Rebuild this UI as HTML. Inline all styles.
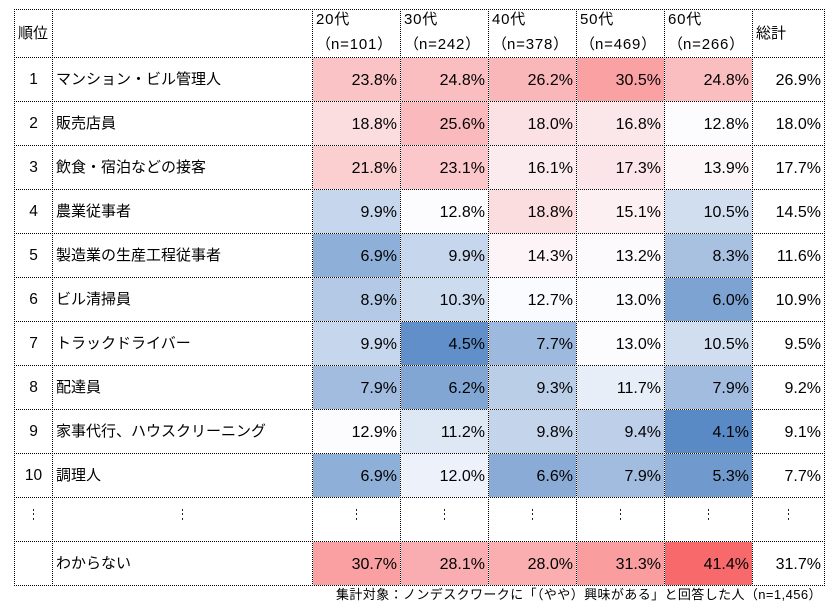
<!DOCTYPE html>
<html><head><meta charset="utf-8">
<style>
html,body{margin:0;padding:0;background:#fff;}
#w{position:relative;width:835px;height:609px;overflow:hidden;background:#fff;font-family:"Liberation Sans","Noto Sans CJK JP",sans-serif;color:#000;font-size:15px;}
.c{position:absolute;height:43px;display:flex;align-items:center;box-sizing:border-box;line-height:15px;white-space:nowrap;}
.n{justify-content:flex-end;padding-right:3px;font-size:16px;padding-top:1px;}
.r{justify-content:center;font-size:15.5px;}
.t{padding-left:3px;}
.h{position:absolute;border-top:1px dotted #000;height:0;left:14px;width:811px;}
.v{position:absolute;border-left:1px dotted #000;width:0;top:9px;height:577px;}
.ht{position:absolute;line-height:15px;white-space:nowrap;}
.ls{letter-spacing:0.8px;}
.d{position:absolute;width:1px;height:2px;background:#222;}
.c0{left:15px;width:37px}.c1{left:53px;width:259px}
.a{left:313px;width:87px}.b{left:401px;width:87px}.e{left:489px;width:87px}.f{left:577px;width:87px}.g{left:665px;width:87px}
.s{left:753px;width:71px}
</style></head><body><div id="w">

<!-- header -->
<div class="ht" style="left:18px;top:26px;">順位</div>
<div class="ht" style="left:316px;top:12px;"><span class="ls">20</span>代</div>
<div class="ht" style="left:316px;top:37px;">（<span class="ls">n=101</span>）</div>
<div class="ht" style="left:404px;top:12px;"><span class="ls">30</span>代</div>
<div class="ht" style="left:404px;top:37px;">（<span class="ls">n=242</span>）</div>
<div class="ht" style="left:492px;top:12px;"><span class="ls">40</span>代</div>
<div class="ht" style="left:492px;top:37px;">（<span class="ls">n=378</span>）</div>
<div class="ht" style="left:580px;top:12px;"><span class="ls">50</span>代</div>
<div class="ht" style="left:580px;top:37px;">（<span class="ls">n=469</span>）</div>
<div class="ht" style="left:668px;top:12px;"><span class="ls">60</span>代</div>
<div class="ht" style="left:668px;top:37px;">（<span class="ls">n=266</span>）</div>
<div class="ht" style="left:756px;top:26px;">総計</div>

<!-- row 1 -->
<div class="c c0 r" style="top:58px">1</div>
<div class="c c1 t" style="top:58px">マンション・ビル管理人</div>
<div class="c a n" style="top:58px;background:rgb(250,196,198)">23.8%</div>
<div class="c b n" style="top:58px;background:rgb(250,190,193)">24.8%</div>
<div class="c e n" style="top:58px;background:rgb(250,183,186)">26.2%</div>
<div class="c f n" style="top:58px;background:rgb(250,161,163)">30.5%</div>
<div class="c g n" style="top:58px;background:rgb(250,190,193)">24.8%</div>
<div class="c s n" style="top:58px">26.9%</div>

<!-- row 2 -->
<div class="c c0 r" style="top:102px">2</div>
<div class="c c1 t" style="top:102px">販売店員</div>
<div class="c a n" style="top:102px;background:rgb(251,221,224)">18.8%</div>
<div class="c b n" style="top:102px;background:rgb(250,186,189)">25.6%</div>
<div class="c e n" style="top:102px;background:rgb(251,225,228)">18.0%</div>
<div class="c f n" style="top:102px;background:rgb(251,231,234)">16.8%</div>
<div class="c g n" style="top:102px;background:rgb(252,252,255)">12.8%</div>
<div class="c s n" style="top:102px">18.0%</div>

<!-- row 3 -->
<div class="c c0 r" style="top:146px">3</div>
<div class="c c1 t" style="top:146px">飲食・宿泊などの接客</div>
<div class="c a n" style="top:146px;background:rgb(251,206,208)">21.8%</div>
<div class="c b n" style="top:146px;background:rgb(251,199,202)">23.1%</div>
<div class="c e n" style="top:146px;background:rgb(252,235,238)">16.1%</div>
<div class="c f n" style="top:146px;background:rgb(251,229,232)">17.3%</div>
<div class="c g n" style="top:146px;background:rgb(252,246,249)">13.9%</div>
<div class="c s n" style="top:146px">17.7%</div>

<!-- row 4 -->
<div class="c c0 r" style="top:190px">4</div>
<div class="c c1 t" style="top:190px">農業従事者</div>
<div class="c a n" style="top:190px;background:rgb(198,214,236)">9.9%</div>
<div class="c b n" style="top:190px;background:rgb(252,252,255)">12.8%</div>
<div class="c e n" style="top:190px;background:rgb(251,221,224)">18.8%</div>
<div class="c f n" style="top:190px;background:rgb(252,240,243)">15.1%</div>
<div class="c g n" style="top:190px;background:rgb(209,222,240)">10.5%</div>
<div class="c s n" style="top:190px">14.5%</div>

<!-- row 5 -->
<div class="c c0 r" style="top:234px">5</div>
<div class="c c1 t" style="top:234px">製造業の生産工程従事者</div>
<div class="c a n" style="top:234px;background:rgb(142,175,216)">6.9%</div>
<div class="c b n" style="top:234px;background:rgb(198,214,236)">9.9%</div>
<div class="c e n" style="top:234px;background:rgb(252,244,247)">14.3%</div>
<div class="c f n" style="top:234px;background:rgb(252,250,253)">13.2%</div>
<div class="c g n" style="top:234px;background:rgb(168,193,225)">8.3%</div>
<div class="c s n" style="top:234px">11.6%</div>

<!-- row 6 -->
<div class="c c0 r" style="top:278px">6</div>
<div class="c c1 t" style="top:278px">ビル清掃員</div>
<div class="c a n" style="top:278px;background:rgb(179,201,229)">8.9%</div>
<div class="c b n" style="top:278px;background:rgb(205,219,239)">10.3%</div>
<div class="c e n" style="top:278px;background:rgb(250,251,254)">12.7%</div>
<div class="c f n" style="top:278px;background:rgb(252,251,254)">13.0%</div>
<div class="c g n" style="top:278px;background:rgb(125,163,210)">6.0%</div>
<div class="c s n" style="top:278px">10.9%</div>

<!-- row 7 -->
<div class="c c0 r" style="top:322px">7</div>
<div class="c c1 t" style="top:322px">トラックドライバー</div>
<div class="c a n" style="top:322px;background:rgb(198,214,236)">9.9%</div>
<div class="c b n" style="top:322px;background:rgb(97,143,201)">4.5%</div>
<div class="c e n" style="top:322px;background:rgb(157,185,222)">7.7%</div>
<div class="c f n" style="top:322px;background:rgb(252,251,254)">13.0%</div>
<div class="c g n" style="top:322px;background:rgb(209,222,240)">10.5%</div>
<div class="c s n" style="top:322px">9.5%</div>

<!-- row 8 -->
<div class="c c0 r" style="top:366px">8</div>
<div class="c c1 t" style="top:366px">配達員</div>
<div class="c a n" style="top:366px;background:rgb(161,188,223)">7.9%</div>
<div class="c b n" style="top:366px;background:rgb(129,166,212)">6.2%</div>
<div class="c e n" style="top:366px;background:rgb(187,206,232)">9.3%</div>
<div class="c f n" style="top:366px;background:rgb(232,238,248)">11.7%</div>
<div class="c g n" style="top:366px;background:rgb(161,188,223)">7.9%</div>
<div class="c s n" style="top:366px">9.2%</div>

<!-- row 9 -->
<div class="c c0 r" style="top:410px">9</div>
<div class="c c1 t" style="top:410px">家事代行、ハウスクリーニング</div>
<div class="c a n" style="top:410px;background:rgb(252,251,254)">12.9%</div>
<div class="c b n" style="top:410px;background:rgb(222,231,244)">11.2%</div>
<div class="c e n" style="top:410px;background:rgb(196,213,235)">9.8%</div>
<div class="c f n" style="top:410px;background:rgb(189,207,233)">9.4%</div>
<div class="c g n" style="top:410px;background:rgb(90,138,198)">4.1%</div>
<div class="c s n" style="top:410px">9.1%</div>

<!-- row 10 -->
<div class="c c0 r" style="top:454px">10</div>
<div class="c c1 t" style="top:454px">調理人</div>
<div class="c a n" style="top:454px;background:rgb(142,175,216)">6.9%</div>
<div class="c b n" style="top:454px;background:rgb(237,241,250)">12.0%</div>
<div class="c e n" style="top:454px;background:rgb(137,171,214)">6.6%</div>
<div class="c f n" style="top:454px;background:rgb(161,188,223)">7.9%</div>
<div class="c g n" style="top:454px;background:rgb(112,154,206)">5.3%</div>
<div class="c s n" style="top:454px">7.7%</div>

<!-- dots row -->
<div class="d" style="left:33px;top:509px"></div><div class="d" style="left:33px;top:513px"></div><div class="d" style="left:33px;top:518px"></div>
<div class="d" style="left:182px;top:509px"></div><div class="d" style="left:182px;top:513px"></div><div class="d" style="left:182px;top:518px"></div>
<div class="d" style="left:356px;top:509px"></div><div class="d" style="left:356px;top:513px"></div><div class="d" style="left:356px;top:518px"></div>
<div class="d" style="left:444px;top:509px"></div><div class="d" style="left:444px;top:513px"></div><div class="d" style="left:444px;top:518px"></div>
<div class="d" style="left:532px;top:509px"></div><div class="d" style="left:532px;top:513px"></div><div class="d" style="left:532px;top:518px"></div>
<div class="d" style="left:620px;top:509px"></div><div class="d" style="left:620px;top:513px"></div><div class="d" style="left:620px;top:518px"></div>
<div class="d" style="left:708px;top:509px"></div><div class="d" style="left:708px;top:513px"></div><div class="d" style="left:708px;top:518px"></div>
<div class="d" style="left:788px;top:509px"></div><div class="d" style="left:788px;top:513px"></div><div class="d" style="left:788px;top:518px"></div>

<!-- わからない -->
<div class="c c1 t" style="top:542px">わからない</div>
<div class="c a n" style="top:542px;background:rgb(250,160,162)">30.7%</div>
<div class="c b n" style="top:542px;background:rgb(250,173,176)">28.1%</div>
<div class="c e n" style="top:542px;background:rgb(250,174,176)">28.0%</div>
<div class="c f n" style="top:542px;background:rgb(249,157,159)">31.3%</div>
<div class="c g n" style="top:542px;background:rgb(248,105,107)">41.4%</div>
<div class="c s n" style="top:542px">31.7%</div>

<!-- grid lines -->
<div class="h" style="top:9px"></div>
<div class="h" style="top:57px"></div>
<div class="h" style="top:101px"></div>
<div class="h" style="top:145px"></div>
<div class="h" style="top:189px"></div>
<div class="h" style="top:233px"></div>
<div class="h" style="top:277px"></div>
<div class="h" style="top:321px"></div>
<div class="h" style="top:365px"></div>
<div class="h" style="top:409px"></div>
<div class="h" style="top:453px"></div>
<div class="h" style="top:497px"></div>
<div class="h" style="top:541px"></div>
<div class="h" style="top:585px"></div>
<div class="v" style="left:14px"></div>
<div class="v" style="left:52px"></div>
<div class="v" style="left:312px"></div>
<div class="v" style="left:400px"></div>
<div class="v" style="left:488px"></div>
<div class="v" style="left:576px"></div>
<div class="v" style="left:664px"></div>
<div class="v" style="left:752px"></div>
<div class="v" style="left:824px"></div>

<!-- footnote -->
<div class="ht" style="left:336px;top:588px;font-size:13px;line-height:14px;letter-spacing:0.4px;">集計対象：ノンデスクワークに「（やや）興味がある」と回答した人（n=1,456）</div>

</div></body></html>
